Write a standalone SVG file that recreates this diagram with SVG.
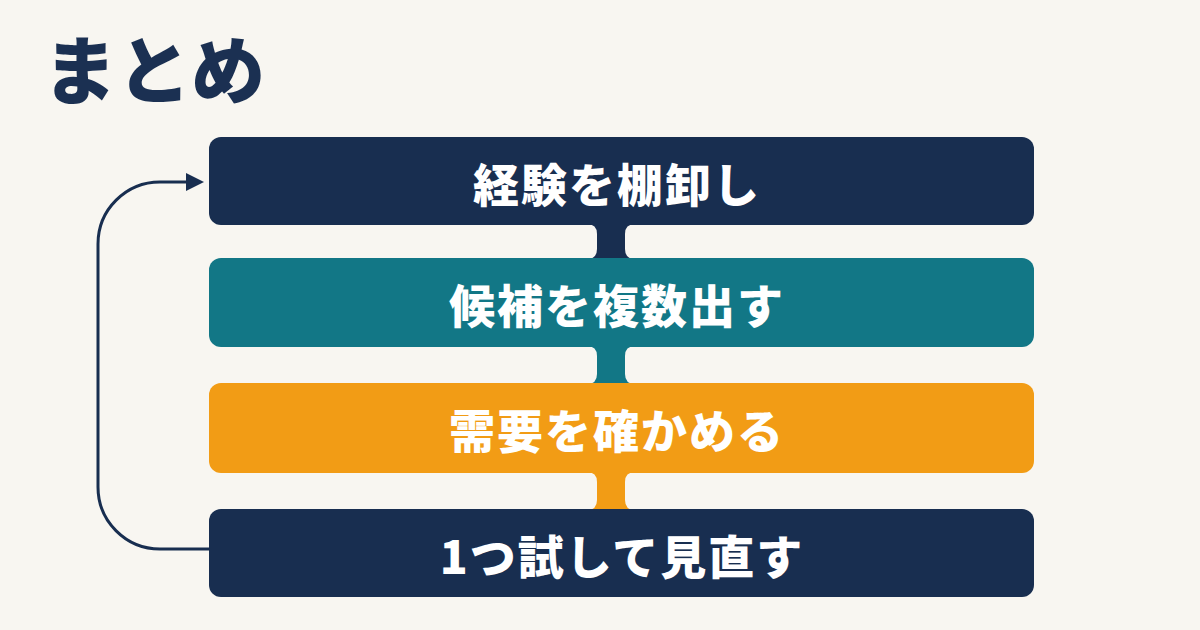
<svg xmlns="http://www.w3.org/2000/svg" width="1200" height="630" viewBox="0 0 1200 630">
<defs>
<style>
.t{font-family:"Noto Sans CJK JP","Noto Sans CJK SC",sans-serif;font-weight:900;fill:#ffffff;font-size:46px;letter-spacing:2px;text-anchor:middle;dominant-baseline:central}
.title{font-family:"Noto Sans CJK JP","Noto Sans CJK SC",sans-serif;font-weight:900;fill:#1b3052;font-size:74px}
.navy{fill:#182e50}
.teal{fill:#127786}
.orange{fill:#f29c15}
.arrow{fill:none;stroke:#182e50;stroke-width:3}
</style>
</defs>
<rect width="1200" height="630" fill="#f8f6f1"/>
<text class="title" x="43" y="98">まとめ</text>
<g id="connectors">
<path class="navy" d="M587 224 Q597 224 597 234 L597 249 Q597 259 587 259 L635 259 Q625 259 625 249 L625 234 Q625 224 635 224 Z"/>
<path class="teal" d="M587 346 Q597 346 597 356 L597 374 Q597 384 587 384 L635 384 Q625 384 625 374 L625 356 Q625 346 635 346 Z"/>
<path class="orange" d="M587 472 Q597 472 597 482 L597 500 Q597 510 587 510 L635 510 Q625 510 625 500 L625 482 Q625 472 635 472 Z"/>
<path class="arrow" d="M209 549 L160 549 A62 62 0 0 1 98 487 L98 244 A62 62 0 0 1 160 182 L190 182"/>
<polygon class="navy" points="186,173 204,182 186,191"/>
</g>
<g id="n1"><rect class="navy" x="209" y="137" width="825" height="88" rx="12"/><text class="t" x="617" y="182">経験を棚卸し</text></g>
<g id="n2"><rect class="teal" x="209" y="258" width="825" height="89" rx="12"/><text class="t" x="617" y="303">候補を複数出す</text></g>
<g id="n3"><rect class="orange" x="209" y="383" width="825" height="90" rx="12"/><text class="t" x="617" y="428">需要を確かめる</text></g>
<g id="n4"><rect class="navy" x="209" y="509" width="825" height="88" rx="12"/><text class="t" x="622" y="554">1つ試して見直す</text></g>
</svg>
